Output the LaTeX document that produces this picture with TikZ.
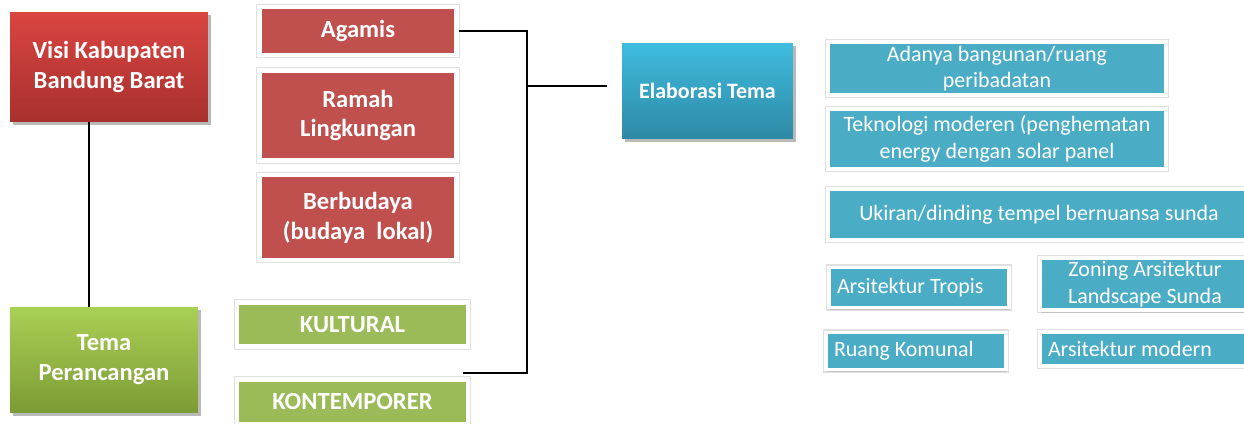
\documentclass[tikz,border=0pt]{standalone}
\usepackage{fontspec}
\setmainfont{Carlito}
\usetikzlibrary{positioning,shadows,calc}
\definecolor{visired}{HTML}{C0504D}
\definecolor{visitop}{HTML}{D94541}
\definecolor{visibot}{HTML}{A8302E}
\definecolor{temagreen}{HTML}{9BBB59}
\definecolor{tematop}{HTML}{AACF55}
\definecolor{temabot}{HTML}{7C9B34}
\definecolor{elabcyan}{HTML}{4BACC6}
\definecolor{elabtop}{HTML}{40BCDE}
\definecolor{elabbot}{HTML}{2D89A5}
\tikzset{
    mainbox/.style={rectangle,text=white,align=center,inner sep=2pt,
        font=\fontsize{14}{17}\selectfont\bfseries,
        drop shadow={opacity=0.55,shadow xshift=1.6pt,shadow yshift=-1.8pt}},
    visibox/.style={mainbox,top color=visitop,bottom color=visibot},
    temabox/.style={mainbox,top color=tematop,bottom color=temabot},
    elabbox/.style={mainbox,top color=elabtop,bottom color=elabbot,font=\fontsize{12.5}{15}\selectfont\bfseries},
    framed/.style={rectangle,draw=white,line width=2.8pt,text=white,align=center,inner sep=2pt,
        preaction={draw=black!12,line width=3.8pt},
        drop shadow={opacity=0.3,shadow xshift=0.8pt,shadow yshift=-1.4pt}},
    redbox/.style={framed,fill=visired,font=\fontsize{14}{17}\selectfont\bfseries},
    greenbox/.style={framed,fill=temagreen,font=\fontsize{14}{17}\selectfont\bfseries},
    tealbox/.style={framed,line width=2.2pt,fill=elabcyan,font=\fontsize{12.5}{15}\selectfont},
    leftteal/.style={tealbox,align=flush left,inner xsep=0.16cm},
    link/.style={draw=black,line width=1.1pt},
}

\begin{document}
\begin{tikzpicture}[x=0.02cm,y=-0.02cm]
    \useasboundingbox[fill=white] (0,0) rectangle (1244,423);

    % visi and tema
    \node[visibox,minimum width=3.96cm,minimum height=2.2cm] (visi) at (109,67) {Visi Kabupaten\\Bandung Barat};
    \node[temabox,minimum width=3.76cm,minimum height=2.12cm] (tema) at (104,360) {Tema\\Perancangan};

    % nilai dari visi
    \node[redbox,minimum width=3.94cm,minimum height=0.96cm] (agamis) at (358,31) {Agamis};
    \node[redbox,minimum width=3.94cm,minimum height=1.8cm] (ramah) at (358,115.5) {Ramah\\Lingkungan};
    \node[redbox,minimum width=3.94cm,minimum height=1.7cm] (budaya) at (358,217.5) {Berbudaya\\(budaya\ \ lokal)};
    \node[greenbox,minimum width=4.62cm,minimum height=0.88cm] (kultural) at (352.5,324.5) {KULTURAL};
    \node[greenbox,minimum width=4.62cm,minimum height=0.9cm] (kontemp) at (352.5,402) {KONTEMPORER};

    \node[elabbox,minimum width=3.42cm,minimum height=1.92cm] (elab) at (707.5,91) {Elaborasi Tema};

    % elaborasi
    \node[tealbox,minimum width=6.76cm,minimum height=1.04cm] (adanya) at (997,68.5) {Adanya bangunan/ruang\\peribadatan};
    \node[tealbox,minimum width=6.76cm,minimum height=1.2cm] (teknologi) at (997,139) {Teknologi moderen (penghematan\\energy dengan solar panel};
    \node[tealbox,minimum width=8.44cm,minimum height=1.02cm] (ukiran) at (1039,214.5) {Ukiran/dinding tempel bernuansa sunda};
    \node[leftteal,text width=3.28cm,minimum height=0.8cm] (tropis) at (919,287.5) {Arsitektur Tropis};
    \node[tealbox,minimum width=4.2cm,minimum height=0.88cm] (zoning) at (1145,284) {Zoning Arsitektur\\Landscape Sunda};
    \node[leftteal,text width=3.28cm,minimum height=0.74cm] (komunal) at (916,351) {Ruang Komunal};
    \node[leftteal,text width=3.88cm,minimum height=0.68cm] (modern) at (1145,349) {Arsitektur modern};

    % garis
    \coordinate (visiFoot) at ($(visi.south west)+(79,0)$);
    \draw[link] (visiFoot) -- (visiFoot |- tema.north);
    \coordinate (agTurn) at ($(agamis.east)+(68,0)$);
    \coordinate (kontTip) at (463,373);
    \coordinate (elabTip) at ($(elab.west)+(-15,-5)$);
    \draw[link] (agamis.east) -- (agTurn) |- (kontTip);
    \draw[link] (agTurn |- elabTip) -- (elabTip);
\end{tikzpicture}
\end{document}
